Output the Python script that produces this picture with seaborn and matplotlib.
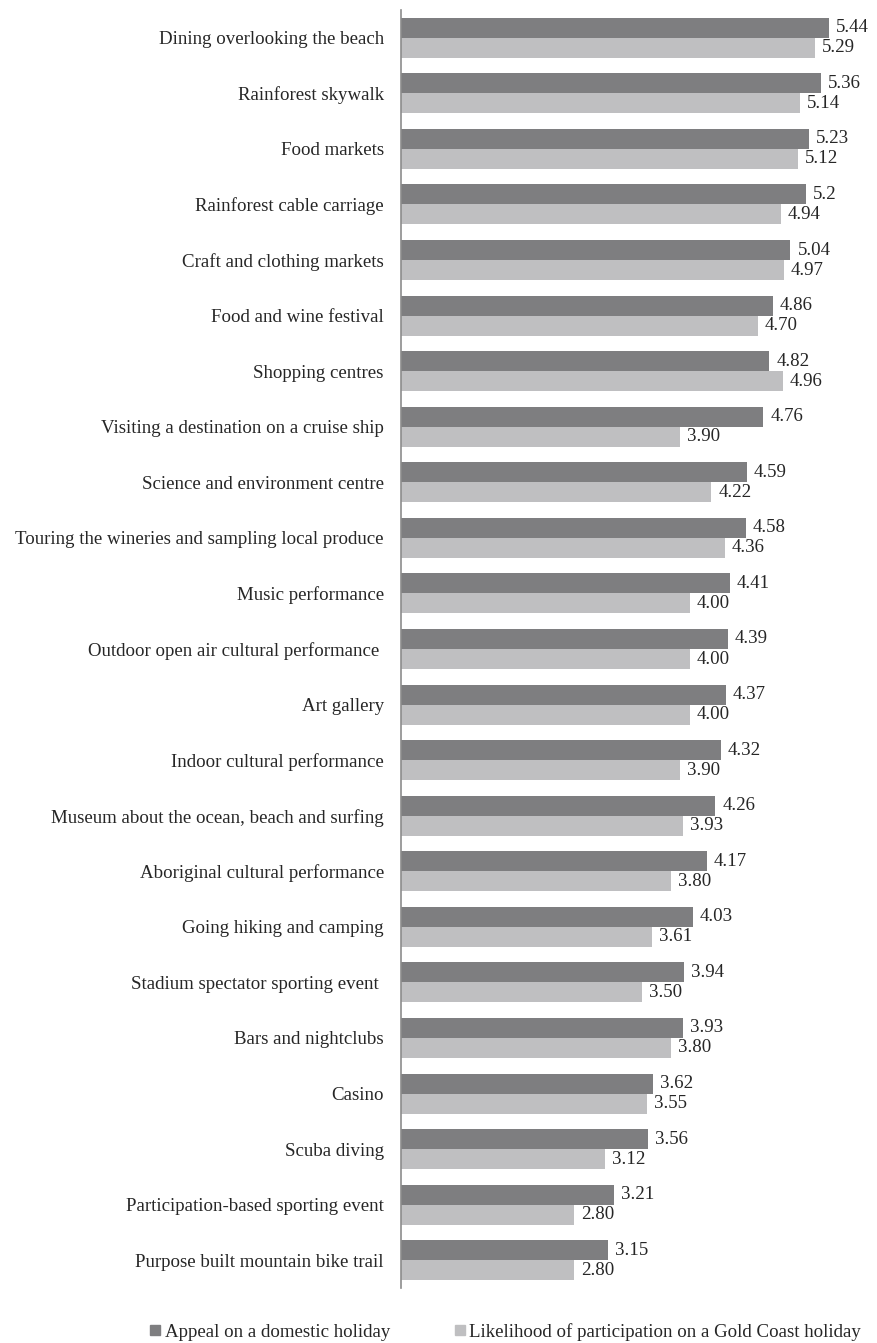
import matplotlib
matplotlib.use("Agg")
import matplotlib.pyplot as plt
import seaborn as sns
import pandas as pd
from matplotlib.lines import Line2D

categories = [
    "Dining overlooking the beach",
    "Rainforest skywalk",
    "Food markets",
    "Rainforest cable carriage",
    "Craft and clothing markets",
    "Food and wine festival",
    "Shopping centres",
    "Visiting a destination on a cruise ship",
    "Science and environment centre",
    "Touring the wineries and sampling local produce",
    "Music performance",
    "Outdoor open air cultural performance ",
    "Art gallery",
    "Indoor cultural performance",
    "Museum about the ocean, beach and surfing",
    "Aboriginal cultural performance",
    "Going hiking and camping",
    "Stadium spectator sporting event ",
    "Bars and nightclubs",
    "Casino",
    "Scuba diving",
    "Participation-based sporting event",
    "Purpose built mountain bike trail",
]
appeal = [5.44, 5.36, 5.23, 5.2, 5.04, 4.86, 4.82, 4.76, 4.59, 4.58, 4.41, 4.39,
          4.37, 4.32, 4.26, 4.17, 4.03, 3.94, 3.93, 3.62, 3.56, 3.21, 3.15]
appeal_labels = ["5.44", "5.36", "5.23", "5.2", "5.04", "4.86", "4.82", "4.76", "4.59",
                 "4.58", "4.41", "4.39", "4.37", "4.32", "4.26", "4.17", "4.03", "3.94",
                 "3.93", "3.62", "3.56", "3.21", "3.15"]
likelihood = [5.29, 5.14, 5.12, 4.94, 4.97, 4.70, 4.96, 3.90, 4.22, 4.36, 4.00, 4.00,
              4.00, 3.90, 3.93, 3.80, 3.61, 3.50, 3.80, 3.55, 3.12, 2.80, 2.80]
likelihood_labels = ["5.29", "5.14", "5.12", "4.94", "4.97", "4.70", "4.96", "3.90", "4.22",
                     "4.36", "4.00", "4.00", "4.00", "3.90", "3.93", "3.80", "3.61", "3.50",
                     "3.80", "3.55", "3.12", "2.80", "2.80"]
series = ["Appeal on a domestic holiday", "Likelihood of participation on a Gold Coast holiday"]
colors = ["#7e7e80", "#bfbfc1"]

df = pd.DataFrame({
    "activity": categories * 2,
    "value": appeal + likelihood,
    "series": [series[0]] * len(categories) + [series[1]] * len(categories),
})

sns.set_theme(style="white")
plt.rcParams["font.family"] = ["Liberation Serif", "DejaVu Serif"]
FS = 13.6
TXT = "#262626"

fig = plt.figure(figsize=(8.77, 13.43), dpi=100)
ax = fig.add_axes([400.5 / 877, 55 / 1343, (873.5 - 400.5) / 877, (1288 - 10) / 1343])

sns.barplot(data=df, y="activity", x="value", hue="series", order=categories,
            hue_order=series, palette=colors, orient="h", width=0.72, gap=0,
            saturation=1, ax=ax, legend=False, linewidth=0, edgecolor="none")

for cont, labs in zip(ax.containers, [appeal_labels, likelihood_labels]):
    ax.bar_label(cont, labels=labs, padding=5, fontsize=FS, color=TXT)

ax.set_xlim(1, 5.9)
ax.set_ylim(len(categories) - 0.5, -0.5)
ax.set_xlabel("")
ax.set_ylabel("")
ax.set_xticks([])
ax.tick_params(axis="y", length=0, pad=12, labelsize=FS, labelcolor=TXT)
for s in ["top", "right", "bottom"]:
    ax.spines[s].set_visible(False)
ax.spines["left"].set_color("#8c8c8c")
ax.spines["left"].set_linewidth(1.2)

handles = [Line2D([0], [0], marker="s", linestyle="none", markersize=7.5,
                  markerfacecolor=c, markeredgecolor=c) for c in colors]
fig.legend(handles, series, loc="center", bbox_to_anchor=(0.573, 1 - 1332 / 1343),
           ncol=2, frameon=False, fontsize=FS, handletextpad=-0.1, handlelength=1.2,
           columnspacing=3.1, labelcolor=TXT)

fig.savefig("out.png", dpi=100)
